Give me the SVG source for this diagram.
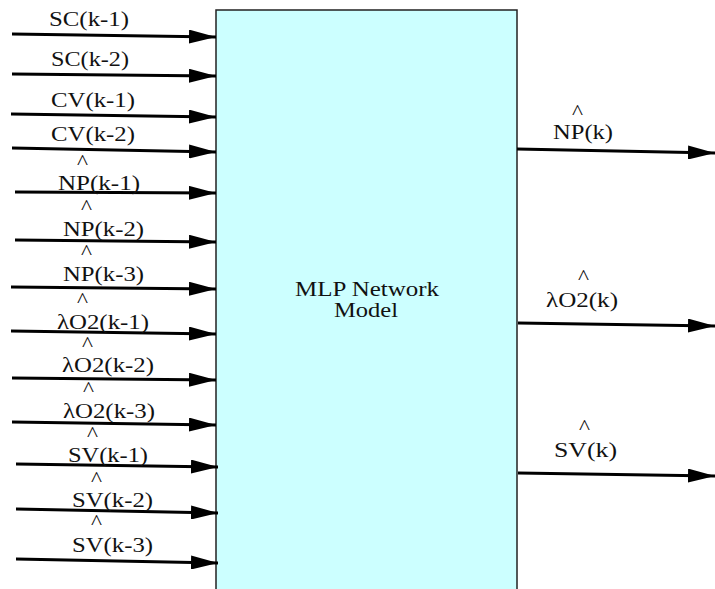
<svg xmlns="http://www.w3.org/2000/svg" width="715" height="589" viewBox="0 0 715 589">
  <style>
    .lbl { font-family: "Liberation Serif", "Times New Roman", serif; font-size: 20px; fill: #111; }
    .ttl { font-family: "Liberation Serif", "Times New Roman", serif; font-size: 20px; fill: #111; }
    .hat { font-family: "Liberation Serif", "Times New Roman", serif; font-size: 20px; fill: #111; }
    .wire { stroke: #000; stroke-width: 3; fill: none; marker-end: url(#head); }
  </style>
  <defs>
    <marker id="head" markerUnits="userSpaceOnUse" markerWidth="27" markerHeight="14" refX="27" refY="7" orient="auto" viewBox="0 0 27 14">
      <path d="M0,0 L27,7 L0,14 z" fill="#000"/>
    </marker>
  </defs>

  <!-- network block -->
  <g id="mlp">
    <rect x="216" y="10" width="301" height="600" fill="#ccffff" stroke="#222" stroke-width="1.5"/>
    <text class="ttl" x="295" y="296" textLength="144" lengthAdjust="spacingAndGlyphs">MLP Network</text>
    <text class="ttl" x="334" y="317" textLength="64" lengthAdjust="spacingAndGlyphs">Model</text>
  </g>

  <!-- connectors -->
  <g id="connectors">
    <line class="wire" x1="12" y1="34" x2="216" y2="37"/>
    <line class="wire" x1="12" y1="74" x2="216" y2="76"/>
    <line class="wire" x1="11" y1="114" x2="216" y2="117"/>
    <line class="wire" x1="12" y1="148" x2="216" y2="152"/>
    <line class="wire" x1="15" y1="192" x2="216" y2="193"/>
    <line class="wire" x1="15" y1="240" x2="216" y2="242"/>
    <line class="wire" x1="11" y1="287" x2="216" y2="289"/>
    <line class="wire" x1="11" y1="331" x2="216" y2="334"/>
    <line class="wire" x1="12" y1="378" x2="216" y2="380"/>
    <line class="wire" x1="12" y1="422" x2="216" y2="425"/>
    <line class="wire" x1="16" y1="464" x2="218" y2="467"/>
    <line class="wire" x1="16" y1="509" x2="218" y2="513"/>
    <line class="wire" x1="16" y1="559" x2="218" y2="563"/>
    <line class="wire" x1="517" y1="149" x2="715" y2="153"/>
    <line class="wire" x1="518" y1="323" x2="715" y2="326"/>
    <line class="wire" x1="518" y1="473" x2="715" y2="476"/>
  </g>

  <!-- input labels -->
  <g id="in-sc1"><text class="lbl" x="49" y="26" textLength="80" lengthAdjust="spacingAndGlyphs">SC(k-1)</text></g>
  <g id="in-sc2"><text class="lbl" x="51" y="66" textLength="78" lengthAdjust="spacingAndGlyphs">SC(k-2)</text></g>
  <g id="in-cv1"><text class="lbl" x="51" y="107" textLength="84" lengthAdjust="spacingAndGlyphs">CV(k-1)</text></g>
  <g id="in-cv2"><text class="lbl" x="51" y="141" textLength="84" lengthAdjust="spacingAndGlyphs">CV(k-2)</text></g>
  <g id="in-np1">
    <text class="hat" x="77" y="169" textLength="11" lengthAdjust="spacingAndGlyphs">^</text>
    <text class="lbl" x="58" y="190" textLength="82" lengthAdjust="spacingAndGlyphs">NP(k-1)</text>
  </g>
  <g id="in-np2">
    <text class="hat" x="81" y="214" textLength="11" lengthAdjust="spacingAndGlyphs">^</text>
    <text class="lbl" x="63" y="236" textLength="81" lengthAdjust="spacingAndGlyphs">NP(k-2)</text>
  </g>
  <g id="in-np3">
    <text class="hat" x="81" y="259" textLength="11" lengthAdjust="spacingAndGlyphs">^</text>
    <text class="lbl" x="63" y="281" textLength="81" lengthAdjust="spacingAndGlyphs">NP(k-3)</text>
  </g>
  <g id="in-lo1">
    <text class="hat" x="77" y="307" textLength="11" lengthAdjust="spacingAndGlyphs">^</text>
    <text class="lbl" x="57" y="329" textLength="92" lengthAdjust="spacingAndGlyphs">λO2(k-1)</text>
  </g>
  <g id="in-lo2">
    <text class="hat" x="82" y="351" textLength="11" lengthAdjust="spacingAndGlyphs">^</text>
    <text class="lbl" x="62" y="372" textLength="92" lengthAdjust="spacingAndGlyphs">λO2(k-2)</text>
  </g>
  <g id="in-lo3">
    <text class="hat" x="83" y="396" textLength="11" lengthAdjust="spacingAndGlyphs">^</text>
    <text class="lbl" x="63" y="418" textLength="92" lengthAdjust="spacingAndGlyphs">λO2(k-3)</text>
  </g>
  <g id="in-sv1">
    <text class="hat" x="87" y="441" textLength="11" lengthAdjust="spacingAndGlyphs">^</text>
    <text class="lbl" x="68" y="462" textLength="80" lengthAdjust="spacingAndGlyphs">SV(k-1)</text>
  </g>
  <g id="in-sv2">
    <text class="hat" x="91" y="486" textLength="11" lengthAdjust="spacingAndGlyphs">^</text>
    <text class="lbl" x="72" y="507" textLength="81" lengthAdjust="spacingAndGlyphs">SV(k-2)</text>
  </g>
  <g id="in-sv3">
    <text class="hat" x="91" y="529" textLength="11" lengthAdjust="spacingAndGlyphs">^</text>
    <text class="lbl" x="72" y="552" textLength="81" lengthAdjust="spacingAndGlyphs">SV(k-3)</text>
  </g>

  <!-- output labels -->
  <g id="out-np">
    <text class="hat" x="572" y="119" textLength="11" lengthAdjust="spacingAndGlyphs">^</text>
    <text class="lbl" x="553" y="139" textLength="60" lengthAdjust="spacingAndGlyphs">NP(k)</text>
  </g>
  <g id="out-lo">
    <text class="hat" x="578" y="284" textLength="11" lengthAdjust="spacingAndGlyphs">^</text>
    <text class="lbl" x="546" y="307" textLength="72" lengthAdjust="spacingAndGlyphs">λO2(k)</text>
  </g>
  <g id="out-sv">
    <text class="hat" x="579" y="434" textLength="11" lengthAdjust="spacingAndGlyphs">^</text>
    <text class="lbl" x="554" y="457" textLength="63" lengthAdjust="spacingAndGlyphs">SV(k)</text>
  </g>
</svg>
